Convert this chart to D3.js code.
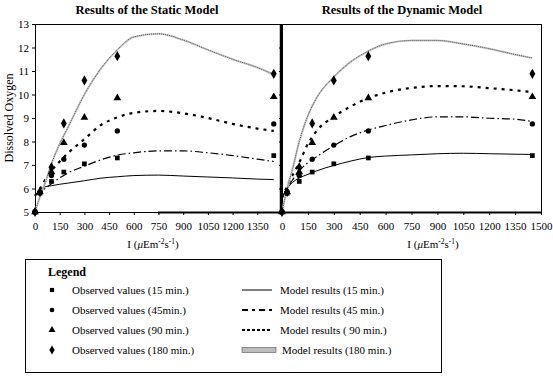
<!DOCTYPE html>
<html>
<head>
<meta charset="utf-8">
<script src="https://cdn.jsdelivr.net/npm/d3@7"></script>
<style>
  body { margin: 0; background: #fff; }
  svg { font-family: "Liberation Serif", "Times New Roman", serif; }
</style>
</head>
<body>
<svg id="chart"></svg>
<script>
var w = 553, h = 382;

// ---- data ----
var xTicksStatic = [0, 150, 300, 450, 600, 750, 900, 1050, 1200, 1350];
var xTicksDynamic = [0, 150, 300, 450, 600, 750, 900, 1050, 1200, 1350, 1500];
var yTicks = [5, 6, 7, 8, 9, 10, 11, 12, 13];

// observed values (same in both panels)
var obsI = [0, 30, 100, 175, 300, 500, 1450];
var obs15 = [5.0, 5.8, 6.3, 6.7, 7.05, 7.3, 7.4];
var obs45 = [5.0, 5.85, 6.55, 7.25, 7.85, 8.45, 8.75];
var obs90 = [5.0, 5.85, 6.7, 7.95, 9.02, 9.85, 9.9];
var obs180 = [5.0, 5.85, 6.9, 8.77, 10.6, 11.63, 10.88];

// model curves
var modelI = [0, 30, 60, 100, 150, 200, 300, 400, 500, 600, 750, 900, 1050, 1200, 1350, 1450];
var static15 = [5.7, 5.95, 6.07, 6.12, 6.18, 6.23, 6.33, 6.44, 6.5, 6.55, 6.57, 6.53, 6.49, 6.45, 6.4, 6.38];
var static45 = [5.7, 5.85, 6.0, 6.2, 6.45, 6.66, 6.95, 7.22, 7.42, 7.52, 7.6, 7.6, 7.52, 7.4, 7.25, 7.15];
var static90 = [5.7, 6.0, 6.35, 6.75, 7.15, 7.5, 8.1, 8.7, 9.03, 9.22, 9.3, 9.2, 9.0, 8.75, 8.55, 8.45];
var static180 = [5.0, 5.65, 6.2, 7.05, 7.9, 8.6, 10.0, 11.1, 11.9, 12.45, 12.58, 12.32, 11.9, 11.5, 11.15, 10.85];
var dynamic15 = [5.6, 6.0, 6.25, 6.45, 6.6, 6.75, 6.98, 7.17, 7.32, 7.38, 7.43, 7.48, 7.5, 7.48, 7.46, 7.45];
var dynamic45 = [5.6, 6.0, 6.35, 6.75, 7.1, 7.35, 7.82, 8.22, 8.49, 8.68, 8.92, 9.05, 9.05, 8.99, 8.95, 8.85];
var dynamic90 = [5.6, 6.1, 6.55, 7.1, 7.9, 8.45, 9.05, 9.5, 9.85, 10.08, 10.28, 10.36, 10.35, 10.27, 10.18, 10.1];
var dynamic180 = [5.0, 6.0, 6.8, 8.0, 9.1, 9.85, 10.75, 11.4, 11.85, 12.15, 12.3, 12.3, 12.15, 11.95, 11.7, 11.55];

var obsSeries = [
    {label: "Observed values  (15 min.)", values: obs15, symbol: d3.symbolSquare, size: 22},
    {label: "Observed values  (45min.)", values: obs45, symbol: d3.symbolCircle, size: 22},
    {label: "Observed values  (90 min.)", values: obs90, symbol: d3.symbolTriangle, size: 26},
    {label: "Observed values  (180 min.)", values: obs180, symbol: d3.symbolDiamond, size: 30}
];
var lineStyles = [
    {label: "Model results  (15 min.)", dash: null, width: 1, color: "#000"},
    {label: "Model results  (45 min.)", dash: "8,3,1.5,3", width: 1.2, color: "#000"},
    {label: "Model results  ( 90 min.)", dash: "3,5", width: 2.2, color: "#000"},
    {label: "Model results  (180 min.)", dash: "1,1", width: 1, color: "#555"}
];

var svg = d3.select("#chart").attr("width", w).attr("height", h);

var yTop = 24, yBottom = 212;
var y = d3.scaleLinear().domain([5, 13]).range([yBottom, yTop]);

drawPanel({
    x0: 35, x1: 282, ticks: xTicksStatic, labels: true,
    title: "Results of the Static Model", titleX: 147, axisTitleX: 153,
    models: [static15, static45, static90, static180]
});
drawPanel({
    x0: 282, x1: 541, ticks: xTicksDynamic, labels: false,
    title: "Results of the Dynamic Model", titleX: 402, axisTitleX: 433,
    models: [dynamic15, dynamic45, dynamic90, dynamic180]
});

// frame across both panels
svg.append("line").attr("x1", 35).attr("x2", 541).attr("y1", yTop + 0.5).attr("y2", yTop + 0.5)
    .attr("stroke", "#000").attr("stroke-width", 1);
svg.append("line").attr("x1", 541.5).attr("x2", 541.5).attr("y1", yTop).attr("y2", yBottom)
    .attr("stroke", "#000").attr("stroke-width", 1);
// heavy rule on the lower axis, as in the original
svg.append("line").attr("x1", 158).attr("x2", 541).attr("y1", yBottom + 0.5).attr("y2", yBottom + 0.5)
    .attr("stroke", "#000").attr("stroke-width", 2);
svg.append("line").attr("x1", 281).attr("x2", 281).attr("y1", yTop).attr("y2", yBottom)
    .attr("stroke", "#000").attr("stroke-width", 2.5);

// y axis title
svg.append("text")
    .attr("transform", "translate(13,118) rotate(-90)")
    .attr("text-anchor", "middle")
    .style("font-size", "12px")
    .text("Dissolved Oxygen");

drawLegend();

function drawPanel(p) {
    var x = d3.scaleLinear().domain([0, 1500]).range([p.x0, p.x1]);
    var g = svg.append("g");

    var xAxis = d3.axisBottom(x).tickValues(p.ticks).tickSize(3).tickFormat(d3.format("d"));
    g.append("g")
        .attr("transform", "translate(0," + yBottom + ")")
        .call(xAxis)
        .call(a => a.selectAll("text").style("font-size", "11px")
            .style("font-family", "Liberation Serif, serif").attr("dy", "1.1em"))
        .call(a => a.select(".domain").attr("d", "M" + p.x0 + ",0.5H" + p.x1));

    var yAxis = d3.axisLeft(y).tickValues(yTicks).tickSize(3)
        .tickFormat(p.labels ? d3.format("d") : "");
    g.append("g")
        .attr("transform", "translate(" + p.x0 + ",0)")
        .call(yAxis)
        .call(a => a.selectAll("text").style("font-size", "11px")
            .style("font-family", "Liberation Serif, serif").attr("x", -6))
        .call(a => a.select(".domain").attr("d", "M0.5," + yTop + "V" + yBottom));

    // titles
    svg.append("text")
        .attr("x", p.titleX).attr("y", 14)
        .attr("text-anchor", "middle")
        .style("font-size", "12.5px").style("font-weight", "bold")
        .text(p.title);

    var t = svg.append("text")
        .attr("x", p.axisTitleX).attr("y", 248)
        .attr("text-anchor", "middle")
        .style("font-size", "11px");
    t.append("tspan").text("I (");
    t.append("tspan").style("font-style", "italic").text("\u03bc");
    t.append("tspan").text("Em");
    t.append("tspan").attr("dy", -4).style("font-size", "7.5px").text("-2");
    t.append("tspan").attr("dy", 4).text("s");
    t.append("tspan").attr("dy", -4).style("font-size", "7.5px").text("-1");
    t.append("tspan").attr("dy", 4).text(")");

    // model lines
    var line = d3.line()
        .x(d => x(d[0]))
        .y(d => y(d[1]))
        .curve(d3.curveMonotoneX);

    p.models.forEach((vals, i) => {
        var st = lineStyles[i];
        var pts = modelI.map((I, k) => [I, vals[k]]);
        if (i === 3) {
            // light hatched double line
            g.append("path").attr("d", line(pts)).attr("fill", "none")
                .attr("stroke", "#c8c8c8").attr("stroke-width", 2);
        }
        g.append("path")
            .attr("d", line(pts))
            .attr("fill", "none")
            .attr("stroke", st.color)
            .attr("stroke-width", st.width)
            .attr("stroke-dasharray", st.dash);
    });

    // observed markers
    obsSeries.forEach(s => {
        g.selectAll(null)
            .data(obsI.map((I, k) => [I, s.values[k]]))
            .enter().append("path")
            .attr("transform", d => "translate(" + x(d[0]) + "," + y(d[1]) + ")")
            .attr("d", d3.symbol().type(s.symbol).size(s.size))
            .attr("fill", "#000");
    });
}

function drawLegend() {
    var lg = svg.append("g");
    lg.append("rect")
        .attr("x", 25.5).attr("y", 259.5)
        .attr("width", 416).attr("height", 113)
        .attr("fill", "none").attr("stroke", "#000");
    lg.append("text")
        .attr("x", 48).attr("y", 276)
        .style("font-size", "12px").style("font-weight", "bold")
        .text("Legend");

    var rowY = [294, 314, 334, 354];
    obsSeries.forEach((s, i) => {
        lg.append("path")
            .attr("transform", "translate(52," + (rowY[i] - 4) + ")")
            .attr("d", d3.symbol().type(s.symbol).size(s.size * 0.8))
            .attr("fill", "#000");
        lg.append("text")
            .attr("x", 72).attr("y", rowY[i])
            .style("font-size", "11px")
            .text(s.label);
    });
    lineStyles.forEach((st, i) => {
        var ly = rowY[i] - 4;
        if (i === 3) {
            lg.append("rect").attr("x", 242).attr("y", ly - 2.5)
                .attr("width", 34).attr("height", 5)
                .attr("fill", "#bdbdbd").attr("stroke", "#555").attr("stroke-width", 0.6);
        } else {
            lg.append("line")
                .attr("x1", 242).attr("x2", 272)
                .attr("y1", ly).attr("y2", ly)
                .attr("stroke", "#000")
                .attr("stroke-width", i === 0 ? 1 : 2.2)
                .attr("stroke-dasharray", i === 1 ? "6,4,3,4" : (i === 2 ? "3,2" : null));
        }
        lg.append("text")
            .attr("x", i === 3 ? 282 : 280).attr("y", rowY[i])
            .style("font-size", "11px")
            .text(st.label);
    });
}
</script>
</body>
</html>
